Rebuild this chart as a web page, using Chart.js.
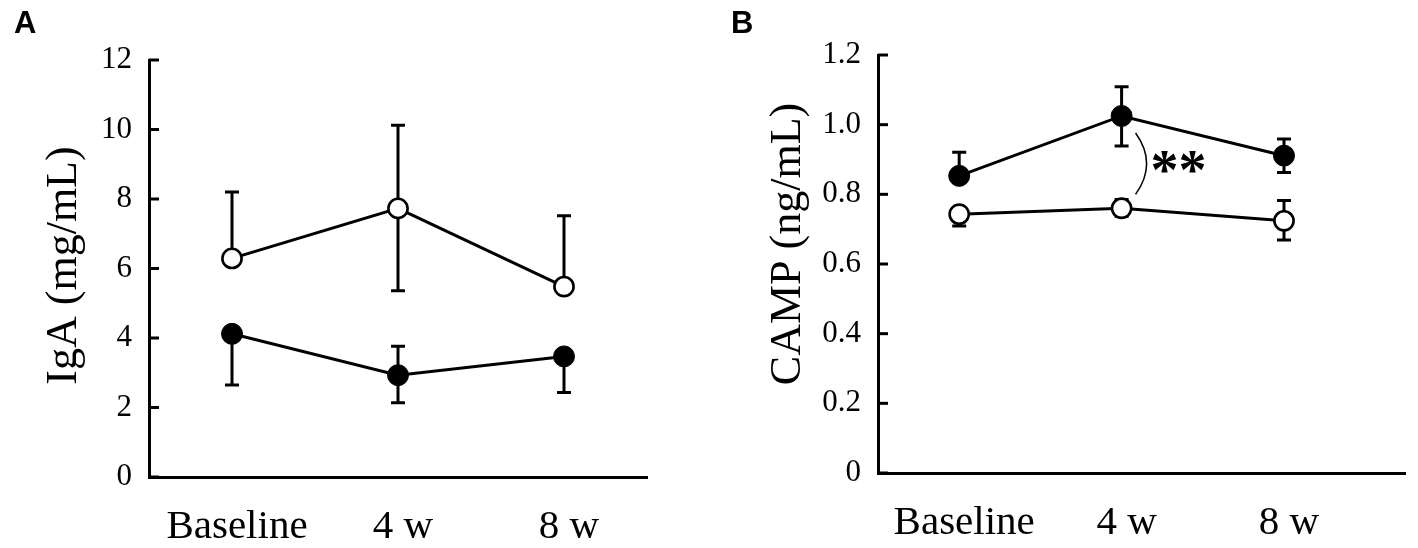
<!DOCTYPE html>
<html>
<head>
<meta charset="utf-8">
<script src="https://cdn.jsdelivr.net/npm/chart.js@4.4.1/dist/chart.umd.min.js"></script>
<style>
  html, body { margin: 0; padding: 0; background: #fff; }
  body { width: 1418px; height: 548px; position: relative; overflow: hidden; }
  .panel { position: absolute; top: 0; width: 709px; height: 548px; }
  .letter { position: absolute; top: 7px; font: bold 31px "Liberation Sans", Arial, sans-serif; line-height: 1; color: #000; }
</style>
</head>
<body>
<div class="panel" style="left:0"><canvas id="chartA"></canvas></div>
<div class="panel" style="left:709px"><canvas id="chartB"></canvas></div>
<div class="letter" style="left:14px">A</div>
<div class="letter" style="left:731px">B</div>
<script>
const categories = ["Baseline", "4 w", "8 w"];

// panel A: IgA (mg/mL)
const igaTicks = [0, 2, 4, 6, 8, 10, 12];
const igaTickLabels = ["0", "2", "4", "6", "8", "10", "12"];
const igaOpen = [6.29, 7.73, 5.48];
const igaOpenHi = [8.2, 10.12, 7.52];
const igaOpenLo = [null, 5.36, null];
const igaFilled = [4.12, 2.93, 3.47];
const igaFilledHi = [null, 3.76, null];
const igaFilledLo = [2.65, 2.14, 2.43];

// panel B: CAMP (ng/mL)
const campTicks = [0, 0.2, 0.4, 0.6, 0.8, 1.0, 1.2];
const campTickLabels = ["0", "0.2", "0.4", "0.6", "0.8", "1.0", "1.2"];
const campFilled = [0.853, 1.025, 0.911];
const campFilledHi = [0.921, 1.109, 0.959];
const campFilledLo = [null, 0.939, 0.863];
const campOpen = [0.743, 0.76, 0.724];
const campOpenHi = [null, 0.785, 0.782];
const campOpenLo = [0.709, 0.737, 0.669];

const serif = '"Liberation Serif", "Times New Roman", serif';

const toPoints = (vals) => vals.map((y, i) => ({ x: i, y }));

const openSet = (vals, hi, lo) => ({
  data: toPoints(vals),
  hi, lo,
  borderColor: "#000",
  borderWidth: 3,
  pointRadius: 9.6,
  pointBorderWidth: 2.6,
  pointBackgroundColor: "#fff",
  pointBorderColor: "#000",
  tension: 0,
});

const filledSet = (vals, hi, lo) => ({
  data: toPoints(vals),
  hi, lo,
  borderColor: "#000",
  borderWidth: 3,
  pointRadius: 10.5,
  pointBorderWidth: 1,
  pointBackgroundColor: "#000",
  pointBorderColor: "#000",
  tension: 0,
});

// error bars + inward y ticks, drawn under the markers
const errorBars = {
  id: "errorBars",
  beforeDatasetsDraw(chart) {
    const { ctx, scales: { x, y }, chartArea } = chart;
    ctx.save();
    ctx.strokeStyle = "#000";
    ctx.lineWidth = 3;
    chart.data.datasets.forEach((ds) => {
      ds.data.forEach((pt, i) => {
        const px = x.getPixelForValue(pt.x);
        const py = y.getPixelForValue(pt.y);
        [ds.hi[i], ds.lo[i]].forEach((v) => {
          if (v == null) return;
          const ey = y.getPixelForValue(v);
          ctx.beginPath();
          ctx.moveTo(px, py);
          ctx.lineTo(px, ey);
          ctx.moveTo(px - 7, ey);
          ctx.lineTo(px + 7, ey);
          ctx.stroke();
        });
      });
    });
    y.ticks.forEach((t) => {
      const ty = y.getPixelForValue(t.value);
      ctx.beginPath();
      ctx.moveTo(chartArea.left, ty);
      ctx.lineTo(chartArea.left + 10, ty);
      ctx.stroke();
    });
    ctx.restore();
  },
};

// rotated y-axis title, placed by hand
const axisTitle = {
  id: "axisTitle",
  afterDraw(chart, args, opts) {
    const { ctx, chartArea } = chart;
    ctx.save();
    ctx.translate(opts.x, (chartArea.top + chartArea.bottom) / 2 - opts.shift);
    ctx.rotate(-Math.PI / 2);
    ctx.fillStyle = "#000";
    ctx.font = "44px " + serif;
    ctx.textAlign = "center";
    ctx.textBaseline = "middle";
    ctx.fillText(opts.text, 0, 0);
    ctx.restore();
  },
};

// significance bracket between the two groups at 4 w
const sigTop = 0.976;
const sigBottom = 0.8;
const sigLabelAt = 0.895;
const sigMark = {
  id: "sigMark",
  afterDatasetsDraw(chart) {
    const { ctx, scales: { x, y } } = chart;
    const cx = x.getPixelForValue(1) + 14;
    const y0 = y.getPixelForValue(sigTop);
    const y1 = y.getPixelForValue(sigBottom);
    ctx.save();
    ctx.strokeStyle = "#000";
    ctx.lineWidth = 1.5;
    ctx.beginPath();
    ctx.moveTo(cx, y0);
    ctx.quadraticCurveTo(cx + 22, (y0 + y1) / 2, cx, y1);
    ctx.stroke();
    ctx.fillStyle = "#000";
    ctx.font = "bold 56px " + serif;
    ctx.textAlign = "left";
    ctx.textBaseline = "alphabetic";
    ctx.fillText("**", cx + 15, y.getPixelForValue(sigLabelAt) + 28);
    ctx.restore();
  },
};

const makeChart = (id, cfg) => {
  new Chart(document.getElementById(id), {
    type: "line",
    data: { datasets: cfg.datasets },
    options: {
      responsive: true,
      maintainAspectRatio: false,
      animation: false,
      events: [],
      layout: { padding: { top: cfg.top, right: cfg.right, bottom: 0, left: 0 } },
      plugins: {
        legend: { display: false },
        tooltip: { enabled: false },
        axisTitle: { text: cfg.title, x: cfg.titleX, shift: cfg.titleShift },
      },
      scales: {
        x: {
          type: "linear",
          min: -0.5,
          max: cfg.xMax,
          afterBuildTicks: (s) => { s.ticks = categories.map((c, i) => ({ value: i })); },
          afterFit: (s) => { s.height = 548 - cfg.bottom; },
          grid: { display: false, drawTicks: false },
          border: { display: true, color: "#000", width: 3 },
          ticks: {
            padding: 26,
            labelOffset: 5,
            color: "#000",
            font: { family: serif, size: 41 },
            callback: (v) => categories[v],
          },
        },
        y: {
          min: 0,
          max: cfg.ticks[cfg.ticks.length - 1],
          afterBuildTicks: (s) => { s.ticks = cfg.ticks.map((v) => ({ value: v })); },
          afterFit: (s) => { s.width = cfg.left; },
          grid: { display: false, drawTicks: false },
          border: { display: true, color: "#000", width: 3 },
          ticks: {
            padding: 17,
            color: "#000",
            font: { family: serif, size: 31 },
            callback: (v, i) => cfg.tickLabels[i],
          },
        },
      },
    },
    plugins: [...cfg.plugins, axisTitle],
  });
};

makeChart("chartA", {
  datasets: [openSet(igaOpen, igaOpenHi, igaOpenLo), filledSet(igaFilled, igaFilledHi, igaFilledLo)],
  ticks: igaTicks,
  tickLabels: igaTickLabels,
  title: "IgA (mg/mL)",
  titleX: 64,
  titleShift: 3,
  left: 149,
  right: 709 - 647,
  top: 60,
  bottom: 477,
  xMax: 2.5,
  plugins: [errorBars],
});

makeChart("chartB", {
  datasets: [filledSet(campFilled, campFilledHi, campFilledLo), openSet(campOpen, campOpenHi, campOpenLo)],
  ticks: campTicks,
  tickLabels: campTickLabels,
  title: "CAMP (ng/mL)",
  titleX: 79,
  titleShift: 20,
  left: 169,
  right: 6,
  top: 55,
  bottom: 473,
  xMax: 2.75,
  plugins: [errorBars, sigMark],
});
</script>
</body>
</html>
